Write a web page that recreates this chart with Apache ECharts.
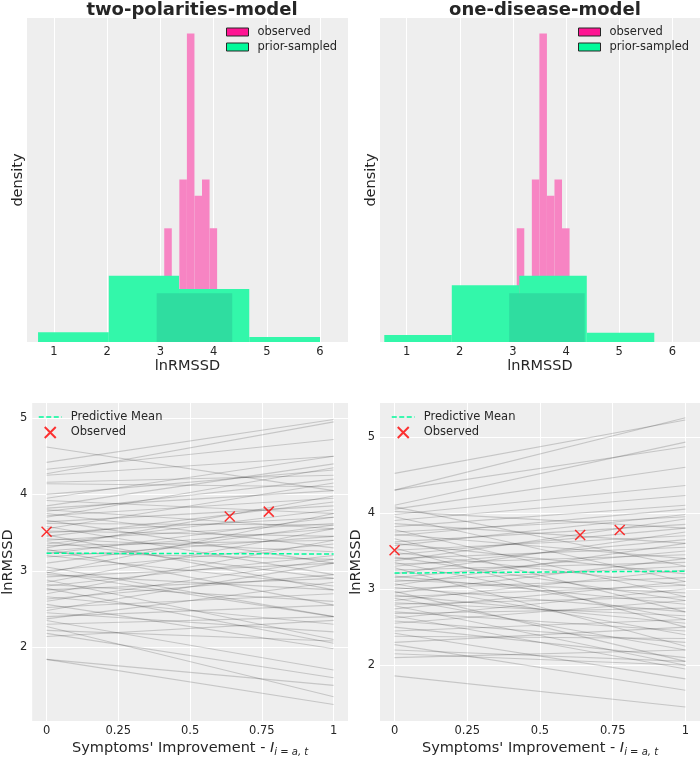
<!DOCTYPE html>
<html>
<head>
<meta charset="utf-8">
<script src="https://cdn.jsdelivr.net/npm/echarts@6/dist/echarts.min.js"></script>
<style>
html,body{margin:0;padding:0;background:#ffffff;}
#chart{width:700px;height:758px;}
</style>
</head>
<body>
<div id="chart"></div>
<script>
// ---------------- data ----------------
const titles = ['two-polarities-model', 'one-disease-model'];
const topXTicks = [1, 2, 3, 4, 5, 6];
const bottomXTicks = [0, 0.25, 0.5, 0.75, 1];
const bottomYTicks = [2, 3, 4, 5];

// observed lnRMSSD histogram (density, arbitrary units)
const obsEdges = [2.93, 3.072, 3.214, 3.356, 3.498, 3.64, 3.782, 3.924, 4.066, 4.208, 4.35];
const obsDensity = [3, 7, 3, 10, 19, 9, 10, 7, 3, 3];

// prior-sampled histograms
const twoPolPriorEdges = [0.70, 2.03, 3.35, 4.67, 6.00];
const twoPolPriorDensity = [0.60, 4.08, 3.26, 0.31];
const oneDisPriorEdges = [0.58, 1.85, 3.12, 4.39, 5.66];
const oneDisPriorDensity = [0.43, 3.49, 4.08, 0.57];

// overlap of observed under prior-sampled
const overlapEdges = [2.93, 4.35];
const overlapDensity = [3.0];

// predictive lines: value at improvement 0 and 1
const lineX = [0, 1];
const twoPolStart = [4.62,4.42,4.27,4.33,4.25,4.16,4.14,4.00,3.95,3.92,3.85,3.82,3.80,3.78,3.75,3.72,3.70,3.66,3.64,3.62,3.58,3.55,3.52,3.50,3.47,3.45,3.42,3.40,3.38,3.35,3.33,3.30,3.28,3.26,3.24,3.22,3.20,3.18,3.10,3.05,3.00,2.98,2.97,2.95,2.92,2.88,2.85,2.82,2.80,2.77,2.75,2.70,2.66,2.63,2.60,2.56,2.52,2.48,2.45,2.40,2.37,2.35,2.30,2.27,2.22,2.18,2.14,1.84,1.84];
const twoPolEnd = [4.05,4.98,4.95,4.72,4.50,4.25,4.10,4.32,4.50,3.75,4.40,4.05,3.55,4.20,3.30,3.95,4.35,3.10,3.85,3.60,2.95,4.15,3.45,3.70,2.75,3.90,3.25,3.62,2.90,3.80,3.40,3.98,2.55,3.55,3.15,3.70,2.80,3.45,3.60,2.40,3.35,2.40,3.75,2.75,3.10,2.10,3.55,2.60,3.20,2.05,2.90,3.40,2.30,2.95,3.15,1.98,2.70,3.10,2.20,2.55,2.85,1.70,2.40,1.35,2.08,1.60,2.35,1.50,1.25];
const oneDisStart = [4.52,4.30,4.30,4.10,4.08,4.05,4.02,3.98,3.95,3.90,3.86,3.82,3.78,3.75,3.72,3.70,3.66,3.62,3.60,3.57,3.54,3.51,3.48,3.45,3.42,3.40,3.37,3.35,3.33,3.30,3.28,3.25,3.20,3.17,3.15,3.12,3.10,3.07,3.05,3.02,3.00,2.97,2.95,2.92,2.90,2.88,2.85,2.82,2.80,2.78,2.74,2.70,2.68,2.65,2.62,2.58,2.55,2.50,2.45,2.42,2.38,2.30,2.27,2.20,2.15,2.10,1.86];
const oneDisEnd = [5.22,5.25,4.87,4.93,3.30,4.60,3.80,4.36,3.10,4.23,3.60,4.10,2.90,3.95,3.40,4.05,2.70,3.85,3.20,3.98,2.50,3.70,3.05,3.80,2.85,3.55,3.92,2.60,3.45,3.65,2.25,3.35,3.75,2.80,3.50,2.95,3.30,2.40,3.60,2.70,3.15,2.05,3.40,2.55,3.05,2.20,3.25,2.65,2.90,2.00,3.10,2.45,2.75,1.95,3.00,2.30,2.85,2.10,2.60,1.82,2.35,2.50,1.67,2.05,2.00,2.20,1.45];

const meanX = [0, 1];
const twoPolMean = [3.23, 3.22];
const oneDisMean = [3.21, 3.235];

const obsX = [0, 0.638, 0.774];
const obsY = [3.51, 3.71, 3.775];

// ---------------- styling ----------------
const FONT = 'DejaVu Sans';
const TXT = '#262626';
const BG = '#eeeeee';
const PINK = '#f784c3';
const GREEN = '#33f7aa';
const DARKGREEN = '#2fdda0';

function bins(edges, dens) {
  return dens.map((d, i) => [edges[i], edges[i + 1], d]);
}
function rectSeries(name, gi, data, fill, z) {
  return {
    type: 'custom', name: name, xAxisIndex: gi, yAxisIndex: gi, z: z, silent: true,
    itemStyle: {color: fill},
    encode: {x: [0, 1], y: 2},
    data: data,
    renderItem: function (params, api) {
      const p0 = api.coord([api.value(0), api.value(2)]);
      const p1 = api.coord([api.value(1), 0]);
      return {type: 'rect', shape: {x: p0[0], y: p0[1], width: p1[0] - p0[0], height: p1[1] - p0[1]},
              style: {fill: fill}};
    }
  };
}
function linesSeries(gi, starts, ends) {
  return {
    type: 'custom', name: 'samples', xAxisIndex: gi, yAxisIndex: gi, z: 2, silent: true,
    encode: {x: [0, 2], y: [1, 3]},
    data: starts.map((s, i) => [lineX[0], s, lineX[1], ends[i]]),
    renderItem: function (params, api) {
      const p0 = api.coord([api.value(0), api.value(1)]);
      const p1 = api.coord([api.value(2), api.value(3)]);
      return {type: 'line', shape: {x1: p0[0], y1: p0[1], x2: p1[0], y2: p1[1]},
              style: {stroke: 'rgba(0,0,0,0.17)', lineWidth: 1.1}};
    }
  };
}

const grids = [
  {left: 27, top: 18, width: 321, height: 324},
  {left: 380, top: 18, width: 321, height: 324},
  {left: 27, top: 403, width: 321, height: 323},
  {left: 380, top: 403, width: 320, height: 323}
].map(g => Object.assign({show: true, backgroundColor: BG, borderWidth: 0}, g));

const splitLine = {show: true, lineStyle: {color: '#ffffff', width: 1}};
const labelStyle = {color: TXT, fontFamily: FONT, fontSize: 11.5};
const nameStyle = {color: TXT, fontFamily: FONT, fontSize: 14.5};

function topX(gi, min, max) {
  return {type: 'value', gridIndex: gi, min: min, max: max,
    axisLine: {show: false}, axisTick: {show: false, customValues: topXTicks},
    axisLabel: Object.assign({customValues: topXTicks, margin: 4}, labelStyle),
    splitLine: splitLine,
    name: 'lnRMSSD', nameLocation: 'middle', nameGap: 14, nameTextStyle: nameStyle};
}
function bottomX(gi) {
  return {type: 'value', gridIndex: gi, min: -0.05, max: 1.05,
    axisLine: {show: false}, axisTick: {show: false, customValues: bottomXTicks},
    axisLabel: Object.assign({customValues: bottomXTicks, margin: 4}, labelStyle),
    splitLine: splitLine,
    name: "Symptoms' Improvement - {i|I}{s|i = a, t}", nameLocation: 'middle', nameGap: 18,
    nameTextStyle: Object.assign({}, nameStyle, {lineHeight: 18, rich: {
      i: {fontFamily: FONT, fontSize: 14.5, fontStyle: 'italic', color: TXT, lineHeight: 18},
      s: {fontFamily: FONT, fontSize: 10, fontStyle: 'italic', color: TXT, lineHeight: 8, verticalAlign: 'bottom'}
    }})};
}
function topY(gi) {
  return {type: 'value', gridIndex: gi, min: 0, max: 19.95,
    axisLine: {show: false}, axisTick: {show: false}, axisLabel: {show: false}, splitLine: {show: false},
    name: 'density', nameLocation: 'middle', nameGap: 1, nameTextStyle: nameStyle};
}
function bottomY(gi, min, max) {
  return {type: 'value', gridIndex: gi, min: min, max: max,
    axisLine: {show: false}, axisTick: {show: false, customValues: bottomYTicks},
    axisLabel: Object.assign({customValues: bottomYTicks, margin: 5}, labelStyle),
    splitLine: splitLine,
    name: 'lnRMSSD', nameLocation: 'middle', nameGap: 14, nameTextStyle: nameStyle};
}

const histLegendData = [
  {name: 'observed', icon: 'rect', itemStyle: {color: '#ff1493', borderColor: '#262626', borderWidth: 1}},
  {name: 'prior-sampled', icon: 'rect', itemStyle: {color: '#00fa9a', borderColor: '#262626', borderWidth: 1}}
];
const lineLegendData = [
  {name: 'Predictive Mean', itemStyle: {opacity: 0},
   lineStyle: {color: '#00fa9a', width: 1.5, type: [5, 2.5]}},
  {name: 'Observed'}
];
function legend(left, top, data, w, h) {
  return {left: left, top: top, orient: 'vertical', itemWidth: w, itemHeight: h, itemGap: 3,
    selectedMode: false, padding: 0,
    textStyle: {color: TXT, fontFamily: FONT, fontSize: 11.5, padding: [0, 0, 0, 4]},
    data: data};
}

const series = [
  rectSeries('observed', 0, bins(obsEdges, obsDensity), PINK, 1),
  rectSeries('prior-sampled', 0, bins(twoPolPriorEdges, twoPolPriorDensity), GREEN, 2),
  rectSeries('overlap', 0, bins(overlapEdges, overlapDensity), DARKGREEN, 3),
  rectSeries('observed', 1, bins(obsEdges, obsDensity), PINK, 1),
  rectSeries('prior-sampled', 1, bins(oneDisPriorEdges, oneDisPriorDensity), GREEN, 2),
  rectSeries('overlap', 1, bins(overlapEdges, overlapDensity), DARKGREEN, 3),
  linesSeries(2, twoPolStart, twoPolEnd),
  linesSeries(3, oneDisStart, oneDisEnd)
];
[[2, twoPolMean], [3, oneDisMean]].forEach(([gi, m]) => {
  series.push({type: 'line', name: 'Predictive Mean', xAxisIndex: gi, yAxisIndex: gi, z: 3,
    symbol: 'none', showSymbol: false, silent: true, data: meanX.map((x, i) => [x, m[i]]),
    itemStyle: {color: '#00fa9a'},
    lineStyle: {color: '#00fa9a', width: 1.5, type: [5, 2.5]}});
  series.push({type: 'scatter', name: 'Observed', xAxisIndex: gi, yAxisIndex: gi, z: 4, silent: true,
    symbol: 'path://M0,0L10,10M10,0L0,10', symbolSize: 10,
    itemStyle: {color: 'rgba(0,0,0,0)', borderColor: '#ff0000', borderWidth: 1.5},
    data: obsX.map((x, i) => [x, obsY[i]])});
});

const option = {
  animation: false,
  backgroundColor: '#ffffff',
  title: [
    {text: titles[0], left: 187, top: -4, textAlign: 'center',
     textStyle: {fontFamily: FONT, fontSize: 18, fontWeight: 'bold', color: TXT}},
    {text: titles[1], left: 540, top: -4, textAlign: 'center',
     textStyle: {fontFamily: FONT, fontSize: 18, fontWeight: 'bold', color: TXT}}
  ],
  grid: grids,
  xAxis: [topX(0, 0.4925, 6.526), topX(1, 0.4993, 6.52), bottomX(2), bottomX(3)],
  yAxis: [topY(0), topY(1), bottomY(2, 1.033, 5.197), bottomY(3, 1.267, 5.444)],
  legend: [
    legend(226, 26, histLegendData, 22, 8),
    legend(578, 26, histLegendData, 22, 8),
    legend(38, 411, lineLegendData, 23, 11),
    legend(391, 411, lineLegendData, 23, 11)
  ],
  series: series
};

const chart = echarts.init(document.getElementById('chart'), null, {renderer: 'canvas'});
chart.setOption(option);
</script>
</body>
</html>
